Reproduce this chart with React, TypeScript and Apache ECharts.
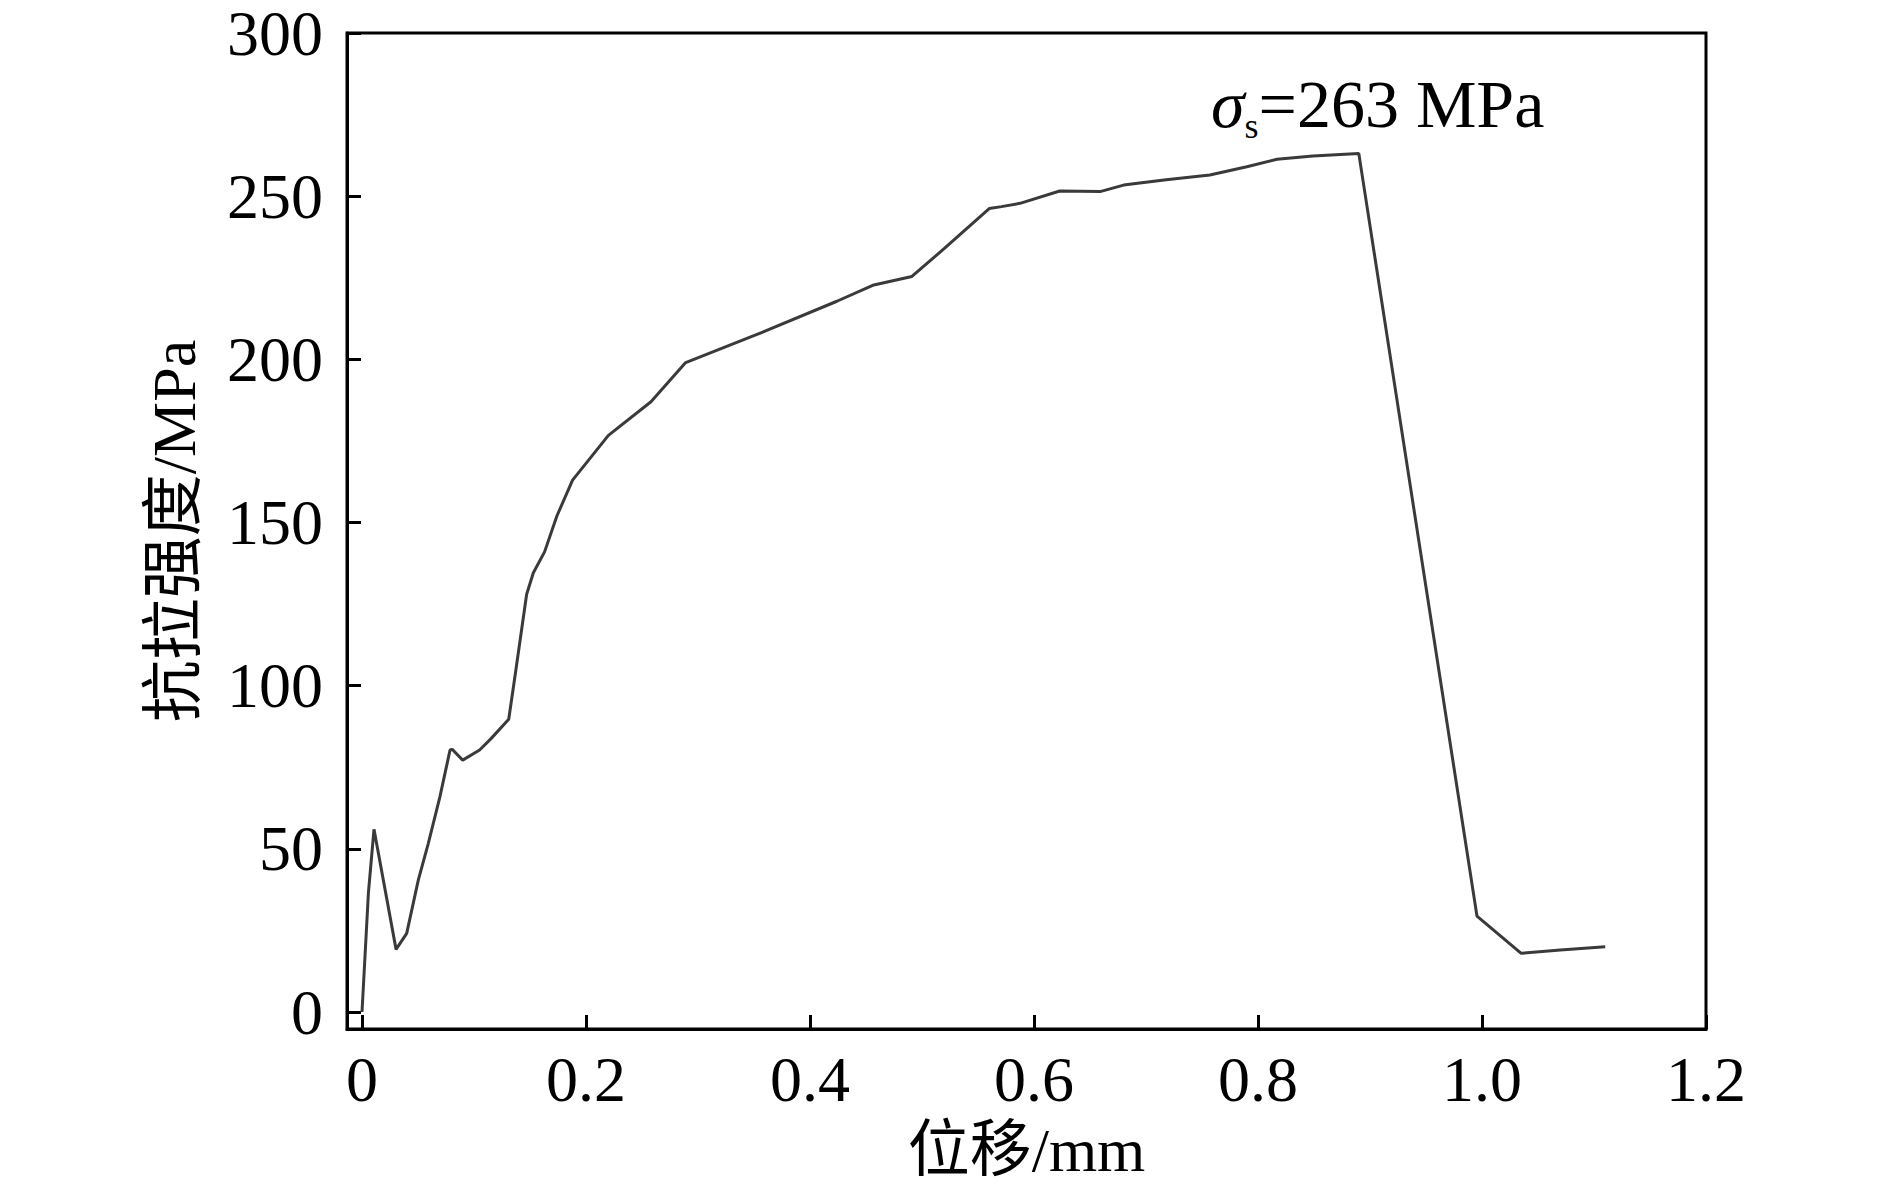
import React, { useEffect, useRef } from "react";
import * as echarts from "echarts";

// displacement (mm)
const displacement = [
  0, 0.0057, 0.0107, 0.0304, 0.0399, 0.0503, 0.0592, 0.0696, 0.0786, 0.0805,
  0.0899, 0.105, 0.115, 0.131, 0.137, 0.147, 0.153, 0.163, 0.174, 0.188,
  0.22, 0.258, 0.289, 0.351, 0.424, 0.456, 0.491, 0.52, 0.56, 0.571,
  0.5875, 0.623, 0.659, 0.68, 0.718, 0.757, 0.79, 0.817, 0.849, 0.89,
  0.895, 0.9955, 1.035, 1.07, 1.11,
];
// tensile strength (MPa)
const stress = [
  0, 36.4, 56, 19.2, 24.1, 40.5, 51.7, 66, 80.3, 80.5,
  77.2, 80.3, 83.7, 89.7, 103.9, 128, 134.6, 141, 152, 163,
  176.7, 187, 199, 207.4, 217.8, 222.7, 225.4, 234, 246.2, 246.8,
  247.8, 251.6, 251.4, 253.4, 255, 256.5, 259, 261.3, 262.3, 263.1,
  252, 29.4, 18, 19, 20,
];

const xTicks = [0, 0.2, 0.4, 0.6, 0.8, 1.0, 1.2];
const yTicks = [0, 50, 100, 150, 200, 250, 300];

const xAxisName = "位移/mm";
const yAxisName = "抗拉强度/MPa";
const annotationValue = "=263 MPa";

const FONT = "'Liberation Serif', 'Times New Roman', 'Noto Sans CJK SC', serif";

export default function App() {
  const ref = useRef<HTMLDivElement>(null);

  useEffect(() => {
    document.body.style.margin = "0";
    if (!ref.current) return;
    const chart = echarts.init(ref.current, undefined, { renderer: "svg" });
    const points = displacement.map((x, i) => [x, stress[i]]);
    chart.setOption({
      animation: false,
      backgroundColor: "#fff",
      grid: {
        left: 347,
        right: 184,
        top: 33,
        bottom: 169,
        show: true,
        borderColor: "#000",
        borderWidth: 3,
        backgroundColor: "transparent",
      },
      xAxis: {
        type: "value",
        min: -0.0134,
        max: 1.2,
        axisLine: { show: true, onZero: false, lineStyle: { color: "#000", width: 3 } },
        axisTick: {
          show: true,
          inside: true,
          length: 14,
          customValues: xTicks,
          lineStyle: { color: "#000", width: 3 },
        },
        axisLabel: {
          customValues: xTicks,
          formatter: (v: number) => (v === 0 ? "0" : v.toFixed(1)),
          fontFamily: FONT,
          fontSize: 64,
          lineHeight: 60,
          color: "#000",
          margin: 20,
        },
        splitLine: { show: false },
        name: xAxisName,
        nameLocation: "middle",
        nameGap: 90,
        nameTextStyle: { fontFamily: FONT, fontSize: 62, color: "#000" },
      },
      yAxis: {
        type: "value",
        min: -5.2,
        max: 300,
        axisLine: { show: true, onZero: false, lineStyle: { color: "#000", width: 3 } },
        axisTick: {
          show: true,
          inside: true,
          length: 14,
          customValues: yTicks,
          lineStyle: { color: "#000", width: 3 },
        },
        axisLabel: {
          customValues: yTicks,
          formatter: (v: number) => String(v),
          fontFamily: FONT,
          fontSize: 64,
          lineHeight: 56,
          color: "#000",
          margin: 24,
        },
        splitLine: { show: false },
        name: yAxisName,
        nameLocation: "middle",
        nameGap: 142,
        nameRotate: 90,
        nameTextStyle: { fontFamily: FONT, fontSize: 62, color: "#000" },
      },
      graphic: [
        {
          type: "text",
          left: 1211,
          top: 70,
          style: {
            text: "{i|σ}{sub|s}{n|" + annotationValue + "}",
            rich: {
              i: {
                fontFamily: FONT,
                fontStyle: "italic",
                fontSize: 68,
                lineHeight: 80,
                fill: "#000",
                color: "#000",
              },
              sub: {
                fontFamily: FONT,
                fontSize: 36,
                lineHeight: 36,
                verticalAlign: "bottom",
                fill: "#000",
                color: "#000",
              },
              n: {
                fontFamily: FONT,
                fontSize: 68,
                lineHeight: 80,
                fill: "#000",
                color: "#000",
              },
            },
          },
        },
      ],
      series: [
        {
          type: "line",
          data: points,
          showSymbol: false,
          symbol: "none",
          smooth: false,
          lineStyle: { color: "#3a3a3a", width: 3 },
          clip: true,
        },
      ],
    });
    return () => chart.dispose();
  }, []);

  return <div ref={ref} style={{ width: 1890, height: 1198 }} />;
}
